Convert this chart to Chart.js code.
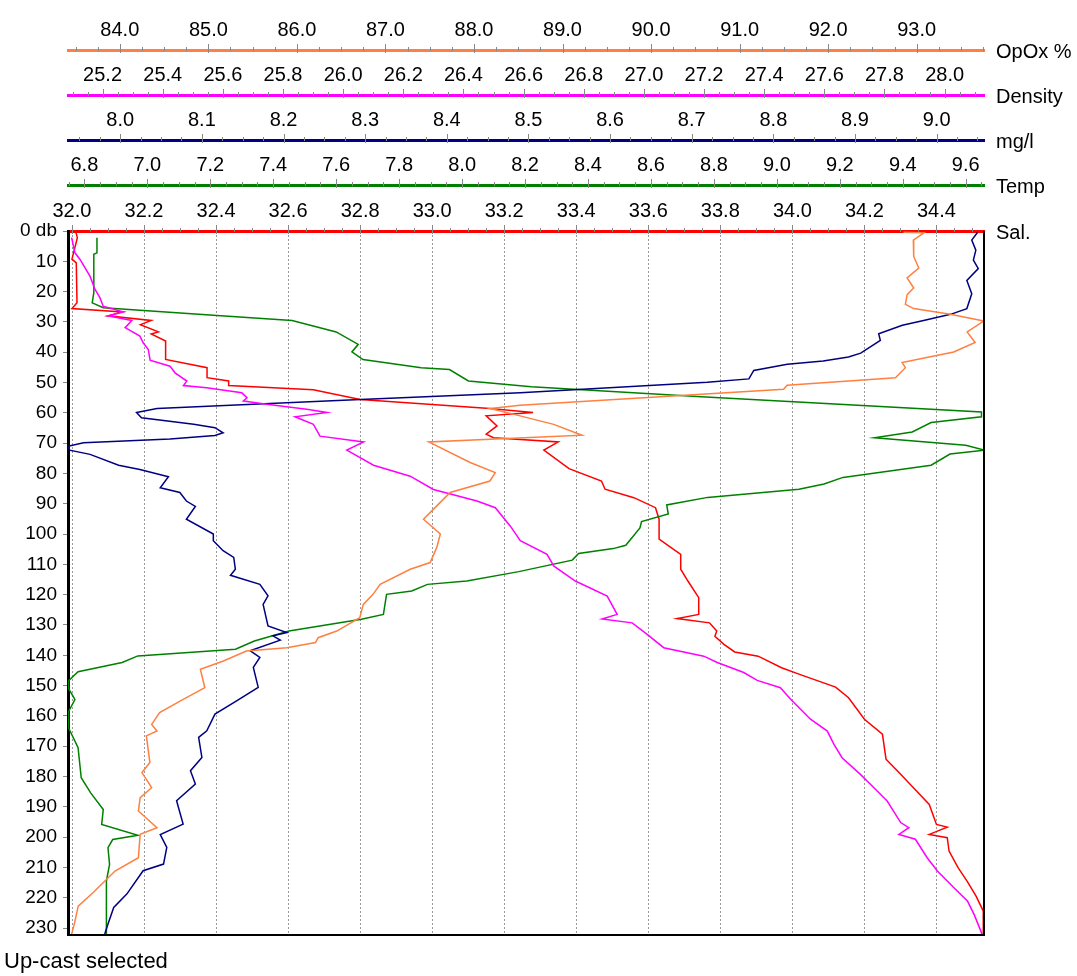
<!DOCTYPE html>
<html>
<head>
<meta charset="utf-8">
<script src="https://cdn.jsdelivr.net/npm/chart.js@4.4.1/dist/chart.umd.min.js"></script>
<style>
  body { margin: 0; background: #fff; }
</style>
</head>
<body>
<canvas id="profile" width="1077" height="976"></canvas>
<script>
// depth (db) and value pairs
const salDepth = [0, 2.2, 9.3, 10.5, 23.7, 25.6, 26.7, 28, 29.5, 30.9, 33.3, 34, 36.3, 42.4, 45.1, 48.4, 49.5, 51, 52.4, 55.6, 58.6, 59.9, 61, 64.3, 67, 68.2, 69.6, 72.3, 78.4, 82.5, 85.2, 88, 91.3, 95.1, 101.7, 106.7, 111.6, 115.5, 121, 126.5, 127.9, 129.3, 132, 133.7, 136.4, 138.9, 140.3, 144.1, 146.3, 150.5, 154, 161.1, 166, 174.3, 179.2, 184.2, 189.2, 195.8, 196.7, 199.1, 200.2, 204.6, 210.1, 214.5, 219.5, 224.4, 232];
const salVal = [32.01, 32.015, 32.0, 32.012, 32.014, 32.0, 32.14, 32.10, 32.22, 32.19, 32.24, 32.22, 32.26, 32.26, 32.375, 32.375, 32.435, 32.435, 32.67, 32.80, 33.16, 33.28, 33.15, 33.18, 33.15, 33.17, 33.35, 33.31, 33.38, 33.47, 33.48, 33.56, 33.62, 33.63, 33.63, 33.69, 33.69, 33.71, 33.74, 33.74, 33.68, 33.77, 33.79, 33.785, 33.81, 33.84, 33.905, 33.97, 34.02, 34.12, 34.156, 34.20, 34.25, 34.26, 34.30, 34.34, 34.38, 34.40, 34.43, 34.38, 34.43, 34.435, 34.46, 34.485, 34.51, 34.53, 34.53];

const tempDepth = [2.2, 7.2, 7.7, 20.3, 23.7, 25.3, 27.8, 29.5, 31.4, 33.3, 37.4, 39.9, 42.4, 45.1, 45.7, 49.5, 51.4, 54.7, 59.7, 61.3, 63.2, 66.3, 68.2, 70.7, 72.3, 73.6, 77.3, 81.3, 83.5, 85.2, 87.9, 90.4, 93.4, 95.9, 98, 103.7, 104.8, 106.4, 108.6, 112.4, 115.5, 116.6, 118.8, 119.9, 126.5, 128.1, 132, 135.3, 138, 140.2, 142.4, 145.4, 148.4, 151, 154.6, 158.5, 164, 170.5, 180.4, 185.4, 190.9, 195.8, 199.4, 200.8, 203.5, 209, 214.5, 232.1];
const tempVal = [6.84, 6.84, 6.83, 6.83, 6.825, 6.86, 7.21, 7.46, 7.53, 7.60, 7.67, 7.65, 7.685, 7.87, 7.96, 8.02, 8.22, 8.76, 9.65, 9.65, 9.49, 9.43, 9.31, 9.60, 9.66, 9.55, 9.49, 9.21, 9.15, 9.07, 8.78, 8.65, 8.655, 8.57, 8.565, 8.52, 8.48, 8.37, 8.35, 8.18, 8.015, 7.89, 7.84, 7.76, 7.75, 7.68, 7.45, 7.34, 7.28, 6.97, 6.92, 6.78, 6.75, 6.75, 6.77, 6.75, 6.75, 6.78, 6.79, 6.82, 6.86, 6.855, 6.97, 6.89, 6.875, 6.88, 6.87, 6.87];

const oxyDepth = [0.5, 3, 6.3, 9.6, 12.4, 16.3, 20.7, 25.6, 27.5, 29.5, 31.1, 33.9, 36.1, 40.3, 41.6, 42.9, 44, 46, 48.8, 49.9, 53.4, 55.6, 58.6, 59.9, 61.6, 63.8, 64.9, 66.6, 67.5, 68.6, 69.9, 71, 72.3, 73.7, 77.3, 78.7, 81.1, 84.7, 86.3, 89.1, 90.9, 95.1, 100, 102.2, 105.5, 107.7, 111.6, 113.6, 116.6, 120.4, 123.2, 130.3, 132.5, 133.6, 135, 138.5, 140.7, 144, 150.6, 155, 159.4, 164.9, 167.1, 173.7, 178.1, 182.5, 188, 195.7, 199.2, 203.4, 208.9, 211.1, 218.8, 223.2, 228.7, 232];
const oxyVal = [9.05, 9.043, 9.048, 9.045, 9.051, 9.037, 9.043, 9.037, 9.017, 8.984, 8.958, 8.929, 8.931, 8.907, 8.892, 8.861, 8.817, 8.776, 8.77, 8.719, 8.49, 8.294, 8.045, 8.02, 8.026, 8.09, 8.116, 8.126, 8.116, 8.061, 7.955, 7.936, 7.938, 7.963, 7.998, 8.024, 8.059, 8.049, 8.073, 8.081, 8.092, 8.081, 8.114, 8.114, 8.126, 8.139, 8.141, 8.135, 8.171, 8.181, 8.175, 8.181, 8.204, 8.187, 8.196, 8.159, 8.171, 8.163, 8.169, 8.143, 8.116, 8.106, 8.096, 8.10, 8.086, 8.092, 8.069, 8.077, 8.049, 8.057, 8.053, 8.028, 8.008, 7.992, 7.985, 7.981];

const densDepth = [2.2, 7.2, 9.4, 14.9, 19.3, 22, 24.8, 26.7, 28, 29.5, 31.9, 34.7, 36.9, 39.1, 42.6, 44.6, 46.8, 49.5, 51, 51.7, 53.4, 55, 56.1, 57.2, 58.9, 59.9, 61.3, 63.8, 67.7, 69.6, 72.3, 77.3, 80.9, 85.3, 89.1, 91.3, 97.4, 102.2, 106.7, 110.5, 115.5, 120.5, 126.5, 128, 129.3, 133.1, 137.5, 140.3, 142.4, 145.7, 148.3, 150.7, 154.5, 161.1, 165, 169.4, 173.8, 179.3, 183.7, 188.1, 195.2, 196.9, 199.1, 200.7, 206.8, 211.2, 216.7, 221.1, 225.5, 232.1];
const densVal = [25.097, 25.108, 25.125, 25.158, 25.175, 25.191, 25.202, 25.269, 25.219, 25.297, 25.275, 25.324, 25.335, 25.352, 25.358, 25.424, 25.441, 25.48, 25.469, 25.546, 25.663, 25.68, 25.668, 25.746, 25.885, 25.946, 25.84, 25.901, 25.923, 26.068, 26.012, 26.101, 26.223, 26.30, 26.445, 26.506, 26.556, 26.589, 26.678, 26.70, 26.772, 26.878, 26.911, 26.861, 26.961, 27.011, 27.066, 27.199, 27.244, 27.332, 27.377, 27.454, 27.488, 27.554, 27.61, 27.632, 27.659, 27.72, 27.765, 27.809, 27.854, 27.881, 27.848, 27.903, 27.942, 27.976, 28.031, 28.076, 28.098, 28.125];

const opoxDepth = [0.4, 0.6, 3, 8.4, 12.2, 15.5, 18.8, 21, 24.2, 25.6, 27.5, 29.7, 33.3, 36.8, 39.9, 43.4, 45.1, 48.4, 50.9, 52.2, 57.5, 58.6, 61, 63.8, 67.4, 69.6, 76.4, 79.7, 82.5, 86.3, 90.7, 95.1, 100, 104.4, 109.4, 111.6, 116.6, 119.9, 123.2, 127.6, 132, 134.2, 135.8, 137.5, 138.6, 141.9, 144.6, 150.7, 155.1, 158.9, 162.8, 165, 166.6, 175.4, 178.7, 183.7, 187, 191.4, 196.9, 199.1, 206.8, 211.2, 218.3, 222.8, 228.2, 232];
const opoxVal = [92.85, 93.08, 92.962, 92.966, 93.023, 92.892, 92.966, 92.892, 92.872, 92.966, 93.38, 93.757, 93.57, 93.66, 93.418, 92.835, 92.872, 92.76, 91.536, 91.497, 88.52, 88.183, 88.52, 88.9, 89.22, 87.49, 87.957, 88.24, 88.18, 87.73, 87.58, 87.43, 87.62, 87.58, 87.505, 87.28, 86.94, 86.86, 86.75, 86.71, 86.45, 86.24, 86.21, 85.886, 85.43, 85.17, 84.91, 84.96, 84.68, 84.45, 84.36, 84.42, 84.30, 84.34, 84.25, 84.36, 84.23, 84.21, 84.42, 84.23, 84.21, 83.946, 83.70, 83.53, 83.49, 83.456];

// axis ranges and tick steps: [min, max, major step, minor step]
const salAxis = [31.989, 34.532, 0.2, 0.05];
const tempAxis = [6.748, 9.658, 0.2, 0.05];
const oxyAxis = [7.936, 9.058, 0.1, 0.025];
const densAxis = [25.085, 28.131, 0.2, 0.05];
const opoxAxis = [83.415, 93.76, 1.0, 0.25];
const depthMax = 232.3;

const FONT = "Liberation Sans, Arial";

function toPoints(depths, vals) {
    return depths.map((d, i) => ({ x: vals[i], y: d }));
}

function topAxis(range, color, weight, title) {
    return {
        type: "linear",
        position: "top",
        min: range[0],
        max: range[1],
        weight: weight,
        grid: { display: false, drawTicks: false },
        border: { display: true, color: color, width: 3 },
        ticks: {
            stepSize: range[2],
            autoSkip: false,
            maxRotation: 0,
            padding: 8,
            color: "#000",
            font: { family: FONT, size: 20 },
            callback: v => Number(v).toFixed(1)
        },
        afterFit: s => { s.height = weight === 0 ? 46 : 45; },
        afterBuildTicks: s => {
            const step = range[2];
            const ticks = [];
            for (let v = Math.ceil(range[0] / step - 1e-6) * step; v <= range[1] + 1e-9; v += step) {
                ticks.push({ value: Math.round(v * 1000) / 1000 });
            }
            s.ticks = ticks;
        },
        _minor: range[3],
        _title: title
    };
}

const axisExtras = {
    id: "axisExtras",
    beforeDatasetsDraw(chart) {
        const ctx = chart.ctx;
        const area = chart.chartArea;
        const sal = chart.scales.xSal;
        ctx.save();
        ctx.strokeStyle = "#999";
        ctx.lineWidth = 1;
        ctx.setLineDash([2, 2]);
        for (let v = 32.0; v <= salAxis[1]; v += salAxis[2]) {
            const x = Math.round(sal.getPixelForValue(v)) + 0.5;
            ctx.beginPath();
            ctx.moveTo(x, area.top);
            ctx.lineTo(x, area.bottom);
            ctx.stroke();
        }
        ctx.restore();
    },
    afterDraw(chart) {
        const ctx = chart.ctx;
        const area = chart.chartArea;
        ctx.save();
        ["xSal", "xTemp", "xOxy", "xDens", "xOpox"].forEach(id => {
            const s = chart.scales[id];
            const o = s.options;
            const y = s.bottom;
            ctx.strokeStyle = "#888";
            ctx.lineWidth = 1;
            const minor = o._minor;
            const major = o.ticks.stepSize;
            for (let v = Math.ceil(o.min / minor - 1e-6) * minor; v <= o.max + 1e-9; v += minor) {
                const isMajor = Math.abs(v / major - Math.round(v / major)) < 1e-4;
                const x = Math.round(s.getPixelForValue(v)) + 0.5;
                ctx.beginPath();
                ctx.moveTo(x, y - (isMajor ? 6 : 3));
                ctx.lineTo(x, y + (isMajor ? 3 : 1));
                ctx.stroke();
            }
            ctx.fillStyle = "#000";
            ctx.font = "20px " + FONT;
            ctx.textBaseline = "middle";
            ctx.textAlign = "left";
            ctx.fillText(o._title, area.right + 12, y + 2);
        });
        // frame
        ctx.strokeStyle = "#000";
        ctx.lineWidth = 2;
        ctx.beginPath();
        ctx.moveTo(area.left, area.bottom);
        ctx.lineTo(area.right, area.bottom);
        ctx.lineTo(area.right, area.top);
        ctx.stroke();
        ctx.fillStyle = "#000";
        ctx.font = "22px " + FONT;
        ctx.textBaseline = "middle";
        ctx.fillText("Up-cast selected", 4, 962);
        ctx.restore();
    }
};

const lineStyle = { showLine: true, pointRadius: 0, borderWidth: 1.5, tension: 0, fill: false };

new Chart(document.getElementById("profile"), {
    type: "scatter",
    data: {
        datasets: [
            Object.assign({ label: "OpOx %", data: toPoints(opoxDepth, opoxVal), borderColor: "#ff8040", xAxisID: "xOpox" }, lineStyle),
            Object.assign({ label: "Density", data: toPoints(densDepth, densVal), borderColor: "#ff00ff", xAxisID: "xDens" }, lineStyle),
            Object.assign({ label: "mg/l", data: toPoints(oxyDepth, oxyVal), borderColor: "#000080", xAxisID: "xOxy" }, lineStyle),
            Object.assign({ label: "Temp", data: toPoints(tempDepth, tempVal), borderColor: "#008000", xAxisID: "xTemp" }, lineStyle),
            Object.assign({ label: "Sal.", data: toPoints(salDepth, salVal), borderColor: "#ff0000", xAxisID: "xSal" }, lineStyle)
        ]
    },
    options: {
        responsive: false,
        animation: false,
        devicePixelRatio: 1,
        layout: { padding: { top: 5, right: 93, bottom: 41, left: 0 } },
        plugins: { legend: { display: false }, tooltip: { enabled: false } },
        scales: {
            xSal: topAxis(salAxis, "#ff0000", 0, "Sal."),
            xTemp: topAxis(tempAxis, "#008000", 1, "Temp"),
            xOxy: topAxis(oxyAxis, "#000080", 2, "mg/l"),
            xDens: topAxis(densAxis, "#ff00ff", 3, "Density"),
            xOpox: topAxis(opoxAxis, "#ff8040", 4, "OpOx %"),
            y: {
                type: "linear",
                reverse: true,
                min: 0,
                max: depthMax,
                grid: { drawOnChartArea: false, color: "#888", tickLength: 5 },
                border: { color: "#000", width: 3 },
                ticks: {
                    stepSize: 10,
                    includeBounds: false,
                    autoSkip: false,
                    padding: 6,
                    color: "#000",
                    font: { family: FONT, size: 19 },
                    callback: v => v === 0 ? "0 db" : v
                },
                afterFit: s => { s.width = 68; }
            }
        }
    },
    plugins: [axisExtras]
});
</script>
</body>
</html>
